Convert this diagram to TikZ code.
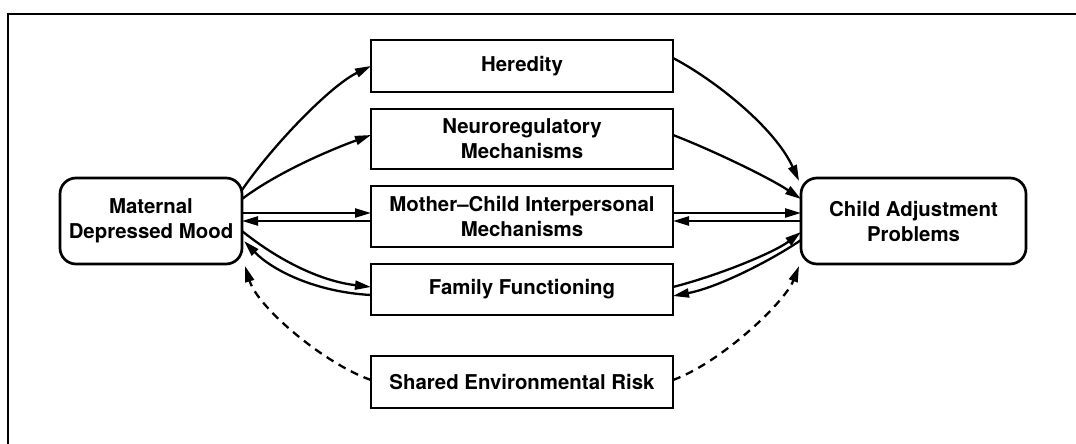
\documentclass[tikz,border=0pt]{standalone}
\usepackage{fontspec}
\setmainfont{TeX Gyre Heros}
\usetikzlibrary{arrows.meta,calc}
\tikzset{
  box/.style={draw, line width=2.7pt, inner sep=0pt, outer sep=0pt, align=center,
    minimum width=302pt, font=\fontsize{20.4}{25}\selectfont\bfseries},
  endbox/.style={box, rounded corners=16pt},
  conn/.style={line width=2.3pt, -{Triangle[length=16pt,width=9pt]}},
  dconn/.style={conn, dash pattern=on 8pt off 6pt},
}
\begin{document}
\begin{tikzpicture}[x=1pt,y=-1pt]
\useasboundingbox (0,0) rectangle (1076,444);
\clip (0,0) rectangle (1076,444);
\fill[white] (0,0) rectangle (1076,444);
\draw[line width=2.5pt] (8,14) rectangle (1100,470);

\node[endbox, minimum width=182pt, minimum height=86pt] (L) at (151,221) {Maternal\\Depressed Mood};
\node[endbox, minimum width=225pt, minimum height=86pt] (R) at (913.5,221) {Child Adjustment\\Problems};

\node[box, minimum height=52pt] (H) at (522,66) {Heredity};
\node[box, minimum height=60pt] (N) at (522,139) {Neuroregulatory\\Mechanisms};
\node[box, minimum height=61pt] (M) at (522,216.5) {Mother–Child Interpersonal\\Mechanisms};
\node[box, minimum height=51pt] (F) at (522,289.5) {Family Functioning};
\node[box, minimum height=52pt] (S) at (522,382) {Shared Environmental Risk};

% left side
\draw[conn] ($(L.east)+(0,-31)$) .. controls (273,145) and (330,86) .. ($(H.west)+(0,0)$);
\draw[conn] ($(L.east)+(0,-22)$) .. controls (278,172) and (330,150) .. ($(N.west)+(0,-4)$);
\draw[conn] ($(L.east)+(0,-8)$) -- ($(M.west)+(0,-3.5)$);
\draw[conn] ($(M.west)+(0,4.5)$) -- ($(L.east)+(0,0)$);
\draw[conn] ($(L.east)+(0,10)$) .. controls (278,260) and (320,281) .. ($(F.west)+(0,-2.5)$);
\draw[conn] ($(F.west)+(0,5.5)$) .. controls (315,292) and (272,270) .. ($(L.east)+(2,20)$);
\draw[dconn] ($(S.west)+(0,-2)$) .. controls (325,364) and (258,308) .. ($(L.south east)+(3,2)$);

% right side
\draw[conn] ($(H.east)+(0,-8)$) .. controls (715,80) and (775,128) .. ($(R.west)+(-2,-40)$);
\draw[conn] ($(N.east)+(0,-4)$) .. controls (712,150) and (770,178) .. ($(R.west)+(0,-22)$);
\draw[conn] ($(M.east)+(0,-3.5)$) -- ($(R.west)+(0,-8)$);
\draw[conn] ($(R.west)+(0,0)$) -- ($(M.east)+(0,4.5)$);
\draw[conn] ($(F.east)+(0,-2.5)$) .. controls (720,275) and (775,252) .. ($(R.west)+(0,11)$);
\draw[conn] ($(R.west)+(0,19)$) .. controls (775,258) and (720,287) .. ($(F.east)+(0,6.5)$);
\draw[dconn] ($(S.east)+(0,-2)$) .. controls (722,362) and (785,302) .. ($(R.south west)+(-2,2)$);
\end{tikzpicture}
\end{document}
